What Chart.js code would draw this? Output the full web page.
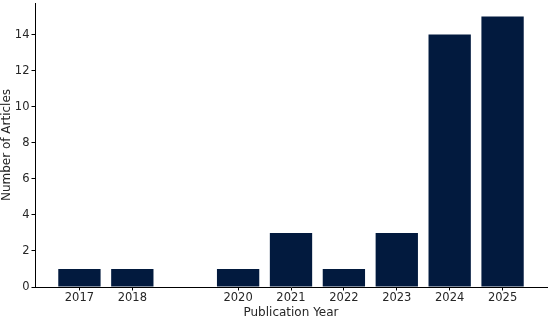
<!DOCTYPE html>
<html><head><meta charset="utf-8">
<script src="https://cdn.jsdelivr.net/npm/chart.js@4/dist/chart.umd.min.js"></script>
<style>html,body{margin:0;padding:0;background:#fff}#wrap{width:550px;height:320px}</style>
</head><body><div id="wrap"><canvas id="c" width="550" height="320"></canvas></div>
<script>
const years = [2017, 2018, 2020, 2021, 2022, 2023, 2024, 2025];
const articles = [1, 1, 1, 3, 1, 3, 14, 15];
const yTicks = [0, 2, 4, 6, 8, 10, 12, 14];
const xLabel = 'Publication Year';
const yLabel = 'Number of Articles';

const tickFont = {family: 'DejaVu Sans', size: 11.5};
const titleFont = {family: 'DejaVu Sans', size: 12};
new Chart(document.getElementById('c'), {
  type: 'bar',
  data: {datasets: [{
    data: years.map((y, i) => ({x: y, y: articles[i]})),
    backgroundColor: '#021a3e',
    borderWidth: 0,
    barPercentage: 0.8,
    categoryPercentage: 1.0
  }]},
  options: {
    responsive: false, animation: false,
    layout: {padding: {top: 3, right: 3, left: 0, bottom: 0}},
    plugins: {legend: {display: false}, tooltip: {enabled: false}},
    scales: {
      x: {
        type: 'linear', offset: false, min: 2016.16, max: 2025.84,
        afterBuildTicks: s => { s.ticks = years.map(v => ({value: v})); },
        afterFit: s => { s.height = 33; },
        ticks: {color: '#262626', font: tickFont, padding: 1, maxRotation: 0, autoSkip: false,
                callback: v => String(v)},
        grid: {display: true, offset: false, drawOnChartArea: false, drawTicks: true, tickLength: 3.5, color: '#000', tickColor: '#000'},
        border: {display: true, color: '#000', width: 1},
        title: {display: true, text: xLabel, color: '#262626', font: titleFont, padding: {top: 0, bottom: 0}}
      },
      y: {
        min: 0, max: 15.75,
        afterBuildTicks: s => { s.ticks = yTicks.map(v => ({value: v})); },
        afterFit: s => { s.width = 35; s.paddingTop = 0; s.paddingBottom = 0; },
        ticks: {color: '#262626', font: tickFont, padding: 2},
        grid: {display: true, offset: false, drawOnChartArea: false, drawTicks: true, tickLength: 3.5, color: '#000', tickColor: '#000'},
        border: {display: true, color: '#000', width: 1},
        title: {display: true, text: yLabel, color: '#262626', font: titleFont, padding: {top: 0, bottom: 0}}
      }
    }
  }
});
</script></body></html>
